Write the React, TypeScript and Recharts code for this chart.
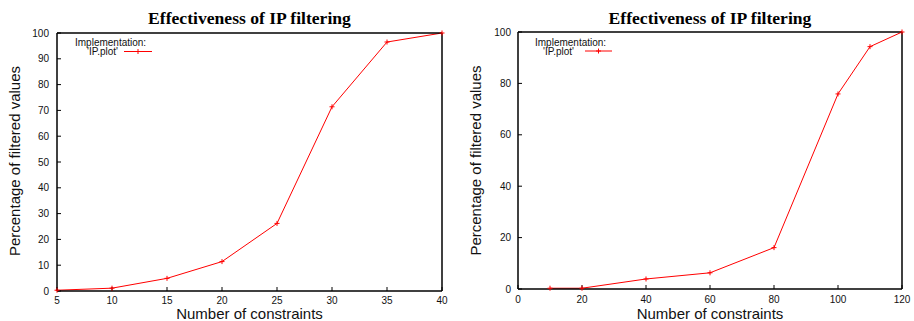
import { LineChart, Line, XAxis, YAxis } from 'recharts';

// values
const leftX = [5, 10, 15, 20, 25, 30, 35, 40];
const leftY = [0.3, 1.1, 4.9, 11.4, 26.2, 71.4, 96.5, 100];
const leftXTicks = [5, 10, 15, 20, 25, 30, 35, 40];
const leftYTicks = [0, 10, 20, 30, 40, 50, 60, 70, 80, 90, 100];

const rightX = [10, 20, 40, 60, 80, 100, 110, 120];
const rightY = [0.3, 0.3, 3.9, 6.3, 16.1, 75.9, 94.3, 100];
const rightXTicks = [0, 20, 40, 60, 80, 100, 120];
const rightYTicks = [0, 20, 40, 60, 80, 100];

const title = 'Effectiveness of IP filtering';
const xLabel = 'Number of constraints';
const yLabel = 'Percentage of filtered values';
const legendTitle = 'Implementation:';
const seriesName = "'IP.plot'";

const RED = '#ff0000';
const SANS = '"Liberation Sans", Arial, sans-serif';
const SERIF = '"Liberation Serif", "Times New Roman", serif';

const W = 457;
const H = 321;
const YW = 40; // left axis width
const XH = 20; // bottom axis height
const ARM = 2.5; // half size of the "+" point marker

function plusPath(cx: number, cy: number) {
  return `M${cx - ARM},${cy}h${ARM * 2}M${cx},${cy - ARM}v${ARM * 2}`;
}

function renderPlus(props: any) {
  const { cx, cy, index } = props;
  if (cx == null || cy == null) return <g key={index} />;
  return <path key={index} d={plusPath(cx, cy)} stroke={RED} strokeWidth={1} fill="none" />;
}

type PanelProps = {
  xs: number[];
  ys: number[];
  xTicks: number[];
  yTicks: number[];
  plot: { left: number; right: number; top: number; bottom: number };
  yTickMargin: number;
  xTickMargin: number;
  yLabelX: number;
  yLabelY: number;
  legend: { titleX: number; nameX: number; lineX1: number; lineX2: number; lineY: number };
};

function Panel(p: PanelProps) {
  const data = p.xs.map((x, i) => ({ x, y: p.ys[i] }));
  const xDomain = [p.xTicks[0], p.xTicks[p.xTicks.length - 1]];
  const yDomain = [p.yTicks[0], p.yTicks[p.yTicks.length - 1]];
  const axisLine = { stroke: '#000', strokeWidth: 1.5 };
  const tickLine = { stroke: '#000', strokeWidth: 1 };
  const tickStyle = { fontSize: 10, fontFamily: SANS, fill: '#111' };
  const cx = (p.plot.left + p.plot.right) / 2;
  const lg = p.legend;

  return (
    <div style={{ position: 'relative', width: W, height: H }}>
      <LineChart
        width={W}
        height={H}
        data={data}
        margin={{
          top: p.plot.top - 1,
          left: p.plot.left - YW,
          right: W - p.plot.right - 1,
          bottom: H - p.plot.bottom - XH,
        }}
      >
        <XAxis
          dataKey="x"
          type="number"
          domain={xDomain}
          ticks={p.xTicks}
          height={XH}
          tickSize={-4}
          tickMargin={p.xTickMargin}
          axisLine={axisLine}
          tickLine={tickLine}
          tick={tickStyle}
        />
        <XAxis
          xAxisId="top"
          orientation="top"
          type="number"
          domain={xDomain}
          ticks={p.xTicks}
          height={1}
          tickSize={-4}
          axisLine={axisLine}
          tickLine={tickLine}
          tick={false}
        />
        <YAxis
          type="number"
          domain={yDomain}
          ticks={p.yTicks}
          width={YW}
          tickSize={-4}
          tickMargin={p.yTickMargin}
          axisLine={axisLine}
          tickLine={tickLine}
          tick={tickStyle}
        />
        <YAxis
          yAxisId="right"
          orientation="right"
          type="number"
          domain={yDomain}
          ticks={p.yTicks}
          width={1}
          tickSize={-4}
          axisLine={axisLine}
          tickLine={tickLine}
          tick={false}
        />
        <Line
          dataKey="y"
          type="linear"
          stroke={RED}
          strokeWidth={1}
          dot={renderPlus}
          activeDot={false}
          isAnimationActive={false}
        />
      </LineChart>

      {/* title, axis labels and the gnuplot-style key */}
      <svg
        width={W}
        height={H}
        style={{ position: 'absolute', left: 0, top: 0, pointerEvents: 'none' }}
      >
        <text x={cx} y={24} textAnchor="middle" fontFamily={SERIF} fontWeight="bold" fontSize={17.6}>
          {title}
        </text>
        <text x={cx} y={319} textAnchor="middle" fontFamily={SANS} fontSize={15} fill="#111">
          {xLabel}
        </text>
        <text
          transform={`translate(${p.yLabelX},${p.yLabelY}) rotate(-90)`}
          textAnchor="middle"
          fontFamily={SANS}
          fontSize={15}
          fill="#111"
        >
          {yLabel}
        </text>
        <text x={lg.titleX} y={45.5} fontFamily={SANS} fontSize={10} fill="#111">
          {legendTitle}
        </text>
        <text x={lg.nameX} y={55} textAnchor="end" fontFamily={SANS} fontSize={10} fill="#111">
          {seriesName}
        </text>
        <line x1={lg.lineX1} x2={lg.lineX2} y1={lg.lineY} y2={lg.lineY} stroke={RED} strokeWidth={1} />
        <path d={plusPath((lg.lineX1 + lg.lineX2) / 2, lg.lineY)} stroke={RED} strokeWidth={1} />
      </svg>
    </div>
  );
}

export default function App() {
  return (
    <div
      style={{
        position: 'absolute',
        left: 0,
        top: 0,
        width: 914,
        height: 321,
        display: 'flex',
        background: '#fff',
      }}
    >
      <Panel
        xs={leftX}
        ys={leftY}
        xTicks={leftXTicks}
        yTicks={leftYTicks}
        plot={{ left: 57, right: 442, top: 33, bottom: 291 }}
        yTickMargin={12}
        xTickMargin={10}
        yLabelX={20}
        yLabelY={161}
        legend={{ titleX: 75, nameX: 118, lineX1: 124, lineX2: 152, lineY: 51.5 }}
      />
      <Panel
        xs={rightX}
        ys={rightY}
        xTicks={rightXTicks}
        yTicks={rightYTicks}
        plot={{ left: 61, right: 445, top: 32, bottom: 289 }}
        yTickMargin={11}
        xTickMargin={11}
        yLabelX={24}
        yLabelY={160.5}
        legend={{ titleX: 78, nameX: 117, lineX1: 128, lineX2: 155, lineY: 51 }}
      />
    </div>
  );
}
